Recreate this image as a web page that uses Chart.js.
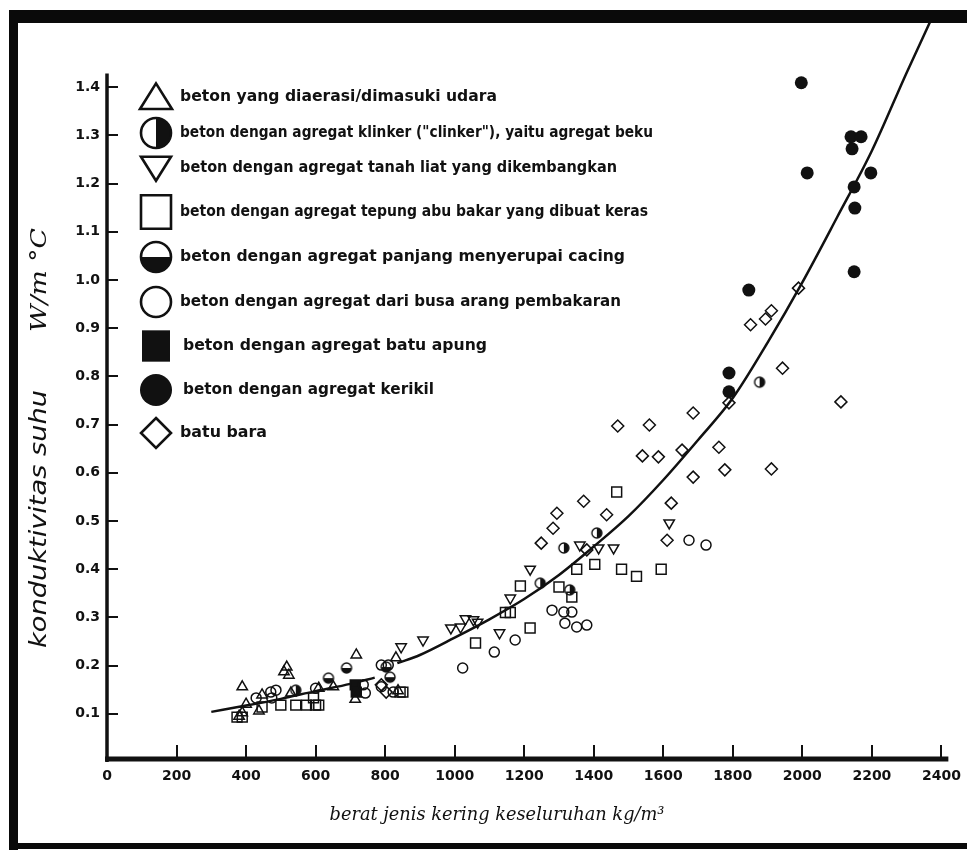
<!DOCTYPE html>
<html>
<head>
<meta charset="utf-8">
<script src="https://cdn.jsdelivr.net/npm/chart.js@4.4.1/dist/chart.umd.min.js"></script>
<style>
html, body { margin: 0; padding: 0; background: #fff; }
</style>
</head>
<body>
<canvas id="chart" width="967" height="852"></canvas>
<script>
// seri data
const seriesLabels = [
    'beton yang diaerasi/dimasuki udara',
    'beton dengan agregat klinker ("clinker"), yaitu agregat beku',
    'beton dengan agregat tanah liat yang dikembangkan',
    'beton dengan agregat tepung abu bakar yang dibuat keras',
    'beton dengan agregat panjang menyerupai cacing',
    'beton dengan agregat dari busa arang pembakaran',
    'beton dengan agregat batu apung',
    'beton dengan agregat kerikil',
    'batu bara'
];

const aeratedX = [380, 389, 389, 400, 437, 446, 509, 517, 523, 529, 609, 651, 714, 717, 831, 837];
const aeratedY = [0.095, 0.102, 0.156, 0.120, 0.106, 0.139, 0.187, 0.197, 0.180, 0.143, 0.153, 0.156, 0.130, 0.222, 0.216, 0.148];

const clinkerX = [543, 1246, 1314, 1331, 1409, 1877];
const clinkerY = [0.149, 0.371, 0.444, 0.357, 0.475, 0.788];

const clayX = [846, 909, 989, 1017, 1031, 1054, 1066, 1129, 1160, 1217, 1360, 1414, 1457, 1617];
const clayY = [0.239, 0.253, 0.278, 0.280, 0.297, 0.295, 0.290, 0.268, 0.340, 0.400, 0.450, 0.444, 0.444, 0.496];

const flyAshX = [374, 389, 446, 500, 543, 574, 594, 600, 609, 843, 851, 1060, 1146, 1160, 1189, 1217, 1300, 1337, 1351, 1403, 1466, 1480, 1523, 1594];
const flyAshY = [0.093, 0.093, 0.114, 0.118, 0.118, 0.118, 0.133, 0.118, 0.118, 0.145, 0.145, 0.247, 0.310, 0.310, 0.365, 0.278, 0.363, 0.342, 0.400, 0.410, 0.560, 0.400, 0.385, 0.400];

const wormX = [637, 689, 803, 814];
const wormY = [0.174, 0.195, 0.197, 0.176];

const foamX = [429, 471, 474, 486, 600, 737, 743, 789, 809, 789, 823, 1023, 1114, 1174, 1280, 1314, 1317, 1337, 1351, 1380, 1674, 1723];
const foamY = [0.133, 0.145, 0.133, 0.149, 0.153, 0.160, 0.143, 0.201, 0.201, 0.156, 0.145, 0.195, 0.228, 0.253, 0.315, 0.311, 0.288, 0.311, 0.280, 0.284, 0.460, 0.450];

const pumiceX = [714, 717];
const pumiceY = [0.160, 0.145];

const gravelX = [1789, 1789, 1846, 1997, 2014, 2140, 2143, 2169, 2197, 2149, 2151, 2149];
const gravelY = [0.807, 0.768, 0.979, 1.409, 1.222, 1.297, 1.272, 1.297, 1.222, 1.193, 1.149, 1.017];

const coalX = [789, 803, 1249, 1283, 1294, 1371, 1380, 1437, 1469, 1540, 1560, 1586, 1611, 1623, 1654, 1686, 1686, 1760, 1777, 1789, 1851, 1894, 1911, 1911, 1943, 1989, 2111];
const coalY = [0.160, 0.145, 0.454, 0.485, 0.516, 0.541, 0.440, 0.513, 0.697, 0.635, 0.699, 0.633, 0.460, 0.537, 0.647, 0.724, 0.591, 0.653, 0.606, 0.745, 0.907, 0.919, 0.936, 0.608, 0.817, 0.983, 0.747];

// garis kurva (null = putus)
const curveX = [300, 400, 500, 600, 700, 770, 800, 835, 900, 1000, 1100, 1200, 1300, 1400, 1500, 1600, 1700, 1800, 1900, 2000, 2100, 2200, 2300, 2380];
const curveY = [0.104, 0.117, 0.131, 0.147, 0.162, 0.175, null, 0.205, 0.222, 0.258, 0.296, 0.338, 0.388, 0.447, 0.510, 0.585, 0.668, 0.755, 0.870, 0.995, 1.130, 1.268, 1.430, 1.555];

// sumbu
const xTicks = [0, 200, 400, 600, 800, 1000, 1200, 1400, 1600, 1800, 2000, 2200, 2400];
const xTickLabels = ['0', '200', '400', '600', '800', '1000', '1200', '1400', '1600', '1800', '2000', '2200', '2400'];
const yTicks = [0.1, 0.2, 0.3, 0.4, 0.5, 0.6, 0.7, 0.8, 0.9, 1.0, 1.1, 1.2, 1.3, 1.4];
const yTickLabels = ['0.1', '0.2', '0.3', '0.4', '0.5', '0.6', '0.7', '0.8', '0.9', '1.0', '1.1', '1.2', '1.3', '1.4'];

const xTitle = 'berat jenis kering keseluruhan kg/m\u00b3';
const yTitle1 = 'konduktivitas suhu';
const yTitle2 = 'W/m \u00b0C';

const INK = '#111';

function toPoints(xs, ys) {
    return xs.map((x, i) => ({ x: x, y: ys[i] }));
}

// gambar simbol legenda / titik
function drawMarker(ctx, kind, x, y, r, lw) {
    ctx.save();
    ctx.lineWidth = lw;
    ctx.strokeStyle = INK;
    ctx.fillStyle = INK;
    ctx.beginPath();
    if (kind === 'triangle') {
        ctx.moveTo(x, y - r * 0.85);
        ctx.lineTo(x + r, y + r * 0.75);
        ctx.lineTo(x - r, y + r * 0.75);
        ctx.closePath();
        ctx.stroke();
    } else if (kind === 'triangleDown') {
        ctx.moveTo(x - r, y - r * 0.75);
        ctx.lineTo(x + r, y - r * 0.75);
        ctx.lineTo(x, y + r * 0.85);
        ctx.closePath();
        ctx.stroke();
    } else if (kind === 'rect') {
        ctx.rect(x - r, y - r * 1.12, 2 * r, 2.24 * r);
        ctx.stroke();
    } else if (kind === 'rectFilled') {
        ctx.rect(x - r, y - r * 1.12, 2 * r, 2.24 * r);
        ctx.fill();
    } else if (kind === 'rectRot') {
        ctx.moveTo(x, y - r);
        ctx.lineTo(x + r, y);
        ctx.lineTo(x, y + r);
        ctx.lineTo(x - r, y);
        ctx.closePath();
        ctx.stroke();
    } else if (kind === 'circle') {
        ctx.arc(x, y, r, 0, Math.PI * 2);
        ctx.stroke();
    } else if (kind === 'circleFilled') {
        ctx.arc(x, y, r, 0, Math.PI * 2);
        ctx.fill();
    } else if (kind === 'halfRight') {
        ctx.arc(x, y, r, -Math.PI / 2, Math.PI / 2);
        ctx.closePath();
        ctx.fill();
        ctx.beginPath();
        ctx.arc(x, y, r, 0, Math.PI * 2);
        ctx.stroke();
    } else if (kind === 'halfBottom') {
        ctx.arc(x, y, r, 0, Math.PI);
        ctx.closePath();
        ctx.fill();
        ctx.beginPath();
        ctx.arc(x, y, r, 0, Math.PI * 2);
        ctx.stroke();
    }
    ctx.restore();
}

function markerImage(kind, r, lw) {
    const c = document.createElement('canvas');
    const size = Math.ceil(2 * r + 4);
    c.width = size;
    c.height = size;
    drawMarker(c.getContext('2d'), kind, size / 2, size / 2, r, lw);
    return c;
}

function scatterSet(i, xs, ys, kind, style, extra) {
    return Object.assign({
        type: 'scatter',
        label: seriesLabels[i],
        legendKind: kind,
        data: toPoints(xs, ys),
        pointStyle: style,
        pointRadius: 5,
        pointBorderWidth: 1.5,
        pointBorderColor: INK,
        pointBackgroundColor: 'rgba(0,0,0,0)',
        showLine: false
    }, extra || {});
}

const datasets = [
    scatterSet(0, aeratedX, aeratedY, 'triangle', 'triangle', { pointRadius: 6 }),
    scatterSet(1, clinkerX, clinkerY, 'halfRight', markerImage('halfRight', 5, 1.4)),
    scatterSet(2, clayX, clayY, 'triangleDown', 'triangle', { pointRadius: 6, rotation: 180 }),
    scatterSet(3, flyAshX, flyAshY, 'rect', 'rect', { pointRadius: 7 }),
    scatterSet(4, wormX, wormY, 'halfBottom', markerImage('halfBottom', 5, 1.4)),
    scatterSet(5, foamX, foamY, 'circle', 'circle', { pointRadius: 5 }),
    scatterSet(6, pumiceX, pumiceY, 'rectFilled', 'rect', { pointRadius: 7, pointBackgroundColor: INK }),
    scatterSet(7, gravelX, gravelY, 'circleFilled', 'circle', { pointRadius: 6.5, pointBackgroundColor: INK, pointBorderWidth: 0 }),
    scatterSet(8, coalX, coalY, 'rectRot', 'rectRot', { pointRadius: 6 }),
    {
        type: 'line',
        label: 'kurva',
        data: toPoints(curveX, curveY),
        borderColor: INK,
        borderWidth: 2.5,
        pointRadius: 0,
        cubicInterpolationMode: 'monotone',
        spanGaps: false,
        fill: false
    }
];

// bingkai hitam di sekeliling gambar
const framePlugin = {
    id: 'frame',
    beforeDraw(chart) {
        const ctx = chart.ctx;
        ctx.save();
        ctx.fillStyle = '#fff';
        ctx.fillRect(0, 0, chart.width, chart.height);
        ctx.fillStyle = '#0a0a0a';
        ctx.fillRect(9, 10, 9, 840);
        ctx.fillRect(9, 10, chart.width - 9, 13);
        ctx.fillRect(9, 843, chart.width - 9, 6);
        ctx.restore();
    }
};

// garis sumbu, tanda tick ke dalam, judul sumbu, legenda
const axesPlugin = {
    id: 'axesDeco',
    afterDatasetsDraw(chart) {
        const ctx = chart.ctx;
        const xs = chart.scales.x;
        const ys = chart.scales.y;
        const x0 = xs.getPixelForValue(0);
        const y0 = ys.getPixelForValue(0);
        ctx.save();
        ctx.strokeStyle = INK;
        ctx.lineCap = 'butt';
        ctx.lineWidth = 3.5;
        ctx.beginPath();
        ctx.moveTo(x0, ys.getPixelForValue(1.428));
        ctx.lineTo(x0, y0);
        ctx.stroke();
        ctx.lineWidth = 5;
        ctx.beginPath();
        ctx.moveTo(x0 - 2, y0 - 3);
        ctx.lineTo(xs.right, y0 - 3);
        ctx.stroke();
        ctx.lineWidth = 2;
        yTicks.forEach(v => {
            const p = Math.round(ys.getPixelForValue(v));
            ctx.beginPath();
            ctx.moveTo(x0, p);
            ctx.lineTo(x0 + 11, p);
            ctx.stroke();
        });
        xTicks.forEach(v => {
            if (v === 0) return;
            const p = Math.round(xs.getPixelForValue(v));
            ctx.beginPath();
            ctx.moveTo(p, y0 - 17);
            ctx.lineTo(p, y0 - 4);
            ctx.stroke();
        });
        ctx.restore();
    },
    afterDraw(chart, args, opts) {
        const ctx = chart.ctx;
        ctx.save();
        ctx.fillStyle = INK;
        ctx.textBaseline = 'middle';

        // judul sumbu
        fitText(ctx, xTitle, 497, 815, 335, 'italic 19px "DejaVu Serif"', 'center');
        ctx.save();
        ctx.translate(40, 519);
        ctx.rotate(-Math.PI / 2);
        fitText(ctx, yTitle1, 0, 0, 258, 'italic 23px "DejaVu Sans"', 'center');
        ctx.restore();
        ctx.save();
        ctx.translate(40, 280);
        ctx.rotate(-Math.PI / 2);
        fitText(ctx, yTitle2, 0, 0, 104, 'italic 23px "DejaVu Serif"', 'center');
        ctx.restore();

        // legenda
        chart.data.datasets.forEach((ds, i) => {
            if (!ds.legendKind) return;
            const row = opts.rows[i];
            drawMarker(ctx, ds.legendKind, opts.markerX, row[0], row[1], 2.6);
            fitText(ctx, ds.label, row[2], row[0], row[3], opts.font, 'left');
        });
        ctx.restore();
    }
};

function fitText(ctx, text, x, y, width, font, align) {
    ctx.save();
    ctx.font = font;
    ctx.textAlign = 'left';
    const w = ctx.measureText(text).width;
    const k = width / w;
    const left = align === 'center' ? x - width / 2 : x;
    ctx.translate(left, y);
    ctx.scale(k, 1);
    ctx.fillText(text, 0, 0);
    ctx.restore();
}

const tickFont = { family: '"DejaVu Sans", sans-serif', size: 14, weight: 'bold' };

new Chart(document.getElementById('chart'), {
    data: { datasets: datasets },
    options: {
        responsive: false,
        animation: false,
        devicePixelRatio: 1,
        layout: { padding: { left: 0, right: 13, top: 23, bottom: 0 } },
        plugins: {
            legend: { display: false },
            tooltip: { enabled: false },
            axesDeco: {
                markerX: 156,
                font: 'bold 15px "DejaVu Sans", sans-serif',
                // [y, ukuran simbol, x teks, lebar teks]
                rows: [
                    [97, 16, 180, 317],
                    [133, 15, 180, 473],
                    [168, 15, 180, 437],
                    [212, 15, 180, 468],
                    [257, 15, 180, 445],
                    [302, 15, 180, 441],
                    [346, 14, 183, 304],
                    [390, 16, 183, 251],
                    [433, 15, 180, 87]
                ]
            }
        },
        scales: {
            x: {
                type: 'linear',
                min: 0,
                max: 2420,
                afterBuildTicks: s => { s.ticks = xTicks.map(v => ({ value: v })); },
                afterFit: s => { s.height = 90; },
                ticks: {
                    autoSkip: false,
                    maxRotation: 0,
                    padding: 6,
                    color: INK,
                    font: tickFont,
                    callback: v => xTickLabels[xTicks.indexOf(v)]
                },
                grid: { display: false, drawTicks: false },
                border: { display: false }
            },
            y: {
                type: 'linear',
                min: 0,
                max: 1.533,
                afterBuildTicks: s => { s.ticks = yTicks.map(v => ({ value: v })); },
                afterFit: s => { s.width = 107; },
                ticks: {
                    padding: 7,
                    color: INK,
                    font: tickFont,
                    callback: v => yTickLabels[yTicks.indexOf(v)]
                },
                grid: { display: false, drawTicks: false },
                border: { display: false }
            }
        }
    },
    plugins: [framePlugin, axesPlugin]
});
</script>
</body>
</html>
